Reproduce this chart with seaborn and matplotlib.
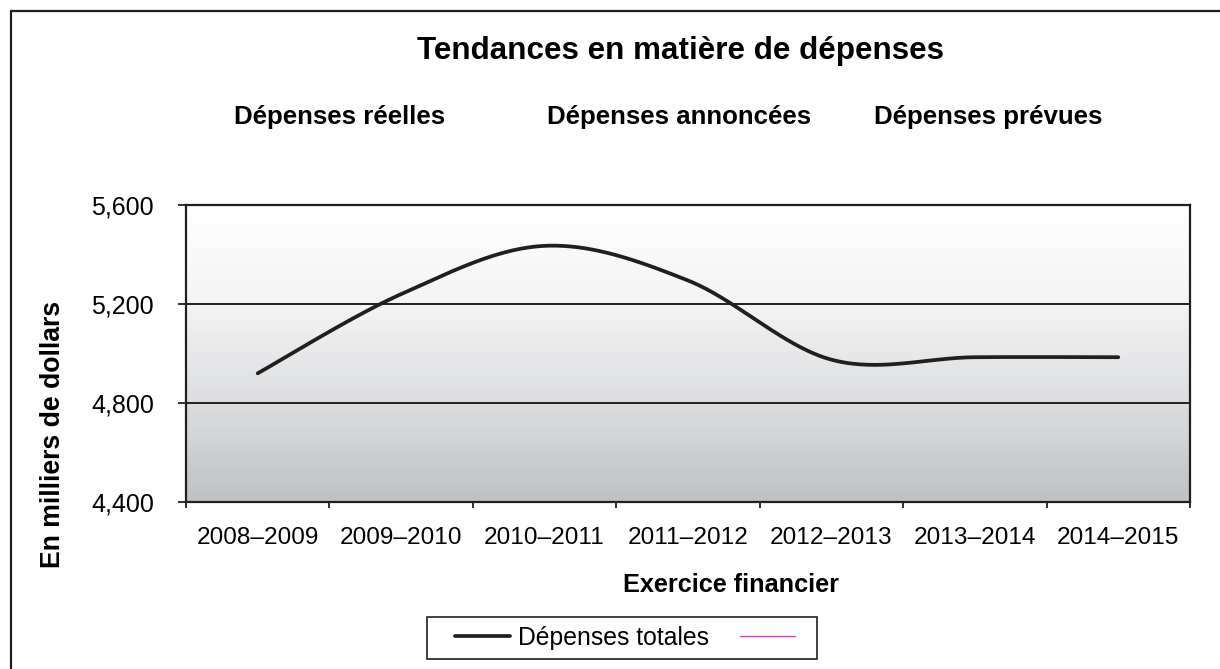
import matplotlib
matplotlib.use("Agg")
import matplotlib.pyplot as plt
import numpy as np
import pandas as pd
import seaborn as sns
from matplotlib.colors import LinearSegmentedColormap
from matplotlib.lines import Line2D
from matplotlib.patches import Rectangle
from matplotlib.ticker import FuncFormatter

# Data (milliers de dollars)
exercices = ["2008–2009", "2009–2010", "2010–2011", "2011–2012",
             "2012–2013", "2013–2014", "2014–2015"]
depenses = [4920, 5240, 5435, 5295, 4975, 4985, 4985]
periodes = ["Dépenses réelles", "Dépenses annoncées", "Dépenses prévues"]

INK = "#231f20"
W, H = 1220, 669

sns.set_theme(style="white")
plt.rcParams["font.family"] = ["Liberation Sans", "DejaVu Sans"]
plt.rcParams["text.color"] = "black"


def _smooth(xv, yv, n=60):
    """Excel-like smoothed line: Bezier segments with Catmull-Rom control points."""
    xv = np.asarray(xv, float)
    yv = np.asarray(yv, float)
    px = np.r_[xv[0], xv, xv[-1]]
    py = np.r_[yv[0], yv, yv[-1]]
    out_x, out_y = [], []
    t = np.linspace(0, 1, n)
    for i in range(1, len(px) - 2):
        x0, x1, x2, x3 = px[i - 1], px[i], px[i + 1], px[i + 2]
        y0, y1, y2, y3 = py[i - 1], py[i], py[i + 1], py[i + 2]
        cx1, cy1 = x1 + (x2 - x0) / 6, y1 + (y2 - y0) / 6
        cx2, cy2 = x2 - (x3 - x1) / 6, y2 - (y3 - y1) / 6
        b0, b1, b2, b3 = (1 - t) ** 3, 3 * (1 - t) ** 2 * t, 3 * (1 - t) * t ** 2, t ** 3
        out_x += list(b0 * x1 + b1 * cx1 + b2 * cx2 + b3 * x2)
        out_y += list(b0 * y1 + b1 * cy1 + b2 * cy2 + b3 * y2)
    return out_x, out_y


df = pd.DataFrame({"exercice": exercices, "depenses": depenses})
df["pos"] = np.arange(len(df))
sx, sy = _smooth(df["pos"], df["depenses"])
df_curve = pd.DataFrame({"pos": sx, "depenses": sy})

fig = plt.figure(figsize=(W / 100, H / 100), dpi=100)
ax = fig.add_axes([186 / W, 1 - 502 / H, 1004 / W, 297 / H])

# gradient plot area
grad = LinearSegmentedColormap.from_list("bg", ["#c0c1c3", "#dcdddf", "#f4f4f5", "#ffffff"])
ax.imshow(np.linspace(0, 1, 256).reshape(-1, 1), extent=(-0.5, 6.5, 4400, 5600),
          origin="lower", aspect="auto", cmap=grad, zorder=0)

for yv in [5200, 4800]:
    ax.axhline(yv, color=INK, lw=1.4, zorder=1)

sns.lineplot(data=df_curve, x="pos", y="depenses", color=INK, lw=2.7, ax=ax,
             sort=False, zorder=3, legend=False)
ax.lines[-1].set_solid_capstyle("round")

ax.set_xlim(-0.5, 6.5)
ax.set_ylim(4400, 5600)
ax.set_yticks([4400, 4800, 5200, 5600])
ax.yaxis.set_major_formatter(FuncFormatter(lambda v, p: f"{v:,.0f}"))
ax.set_xticks(np.arange(-0.5, 7, 1))
ax.set_xticklabels([])
ax.set_xticks(df["pos"], minor=True)
ax.set_xticklabels(exercices, minor=True)
ax.tick_params(axis="x", which="major", direction="out", length=4, width=1.3, color=INK, bottom=True)
ax.tick_params(axis="x", which="minor", length=0, pad=18, labelsize=17.6, labelcolor="black")
ax.tick_params(axis="y", direction="out", length=6, width=1.3, color=INK, left=True,
               pad=17, labelsize=18, labelcolor="black")
ax.set_xlabel("")
ax.set_ylabel("")
for s in ax.spines.values():
    s.set_color(INK)
    s.set_linewidth(1.6)

fig.text(0.558, 0.924, "Tendances en matière de dépenses", ha="center", va="center",
         fontsize=22.6, fontweight="bold")
for txt, xc in zip(periodes, [0.278, 0.557, 0.810]):
    fig.text(xc, 0.825, txt, ha="center", va="center", fontsize=18.6, fontweight="bold")
fig.text(0.599, 0.126, "Exercice financier", ha="center", va="center",
         fontsize=18.2, fontweight="bold")
fig.text(53 / W, 1 - 434 / H, "En milliers de dollars", ha="center", va="center",
         rotation=90, fontsize=19.2, fontweight="bold")

handles = [Line2D([], [], color=INK, lw=2.7),
           Line2D([], [], color="#c04fb8", lw=1.0)]
leg = fig.legend(handles, ["Dépenses totales", ""], loc="center left", ncol=2,
                 bbox_to_anchor=(455 / W, 1 - 638 / H), fontsize=17.8, frameon=False,
                 borderpad=0, borderaxespad=0, handlelength=2.23,
                 handletextpad=0.32, columnspacing=1.25)
# legend box
fig.add_artist(Rectangle((427 / W, 1 - 659 / H), 390 / W, 42 / H, transform=fig.transFigure,
                         fill=False, edgecolor=INK, lw=1.2))

# outer frame (left and top edges only visible)
fig.add_artist(Line2D([11 / W, 11 / W], [0, 1 - 11 / H], color=INK, lw=1.6,
                      transform=fig.transFigure))
fig.add_artist(Line2D([11 / W, 1], [1 - 11 / H, 1 - 11 / H], color=INK, lw=1.6,
                      transform=fig.transFigure))

fig.savefig("out.png", dpi=100, facecolor="white")
